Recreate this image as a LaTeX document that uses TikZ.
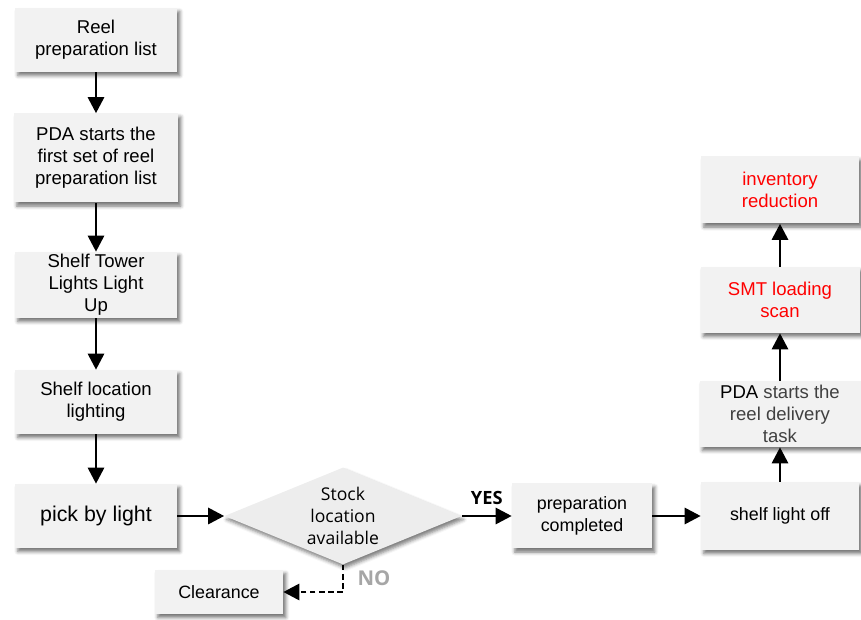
\documentclass[tikz,border=0pt]{standalone}
\usepackage{fontspec}
\setmainfont{Liberation Sans}
\newfontfamily\segoe{Open Sans}
\usetikzlibrary{arrows.meta,shapes.geometric,shadows.blur}
\definecolor{boxgray}{HTML}{F2F2F2}
\definecolor{diagray}{HTML}{EDEDED}
\definecolor{nogray}{HTML}{A6A6A6}
\definecolor{textgray}{HTML}{404040}
\begin{document}
\begin{tikzpicture}
	[box/.style={rectangle,fill=boxgray,align=center,inner sep=1pt,
		minimum width=4.05cm,minimum height=1.6cm,
		font=\fontsize{13.2}{15.6}\selectfont,
		blur shadow={shadow xshift=2pt,shadow yshift=-2.5pt,shadow blur radius=2.5pt,shadow opacity=55}},
	 decision/.style={diamond,fill=diagray,inner sep=0pt,aspect=2.44,
		minimum width=5.925cm,minimum height=2.425cm,
		blur shadow={shadow xshift=1.5pt,shadow yshift=-2.5pt,shadow blur radius=2.5pt,shadow opacity=50}},
	 arrow/.style={-{Triangle[length=4mm,width=4mm]},line width=2pt}]
	\useasboundingbox (0,0) rectangle (21.525,15.5);
	\node[box] (A) at (2.4,14.5) {Reel\\preparation list};
	\node[box,minimum width=4.1cm,minimum height=2.225cm] (B) at (2.4,11.55) {PDA starts the\\first set of reel\\preparation list};
	\node[box,minimum height=1.65cm] (C) at (2.4,8.375) {Shelf Tower\\Lights Light\\Up};
	\node[box] (D) at (2.4,5.45) {Shelf location\\lighting};
	\node[box,font=\fontsize{15.2}{18}\selectfont] (E) at (2.4,2.6) {pick by light};
	\node[decision] (F) at (8.575,2.6) {};
	\node[align=center,font=\segoe\fontsize{12.5}{15.6}\selectfont] (Ft) at (F) {Stock\\location\\available};
	\node[box,minimum width=3.2cm,minimum height=1.1cm,font=\fontsize{12.7}{15}\selectfont] (G) at (5.475,0.7) {Clearance};
	\node[box,minimum width=3.5cm,minimum height=1.625cm,font=\fontsize{12.7}{15.4}\selectfont] (H) at (14.55,2.6) {preparation\\completed};
	\node[box,minimum width=3.95cm,minimum height=1.7cm,font=\fontsize{12.7}{15.4}\selectfont] (I) at (19.5,2.6) {shelf light off};
	\node[box,minimum width=4.025cm,minimum height=1.65cm] (J) at (19.5,5.15) {PDA \textcolor{textgray}{starts the}\\\textcolor{textgray}{reel delivery}\\\textcolor{textgray}{task}};
	\node[box,minimum width=3.975cm,minimum height=1.65cm,text=red] (K) at (19.5,8.0) {SMT loading\\scan};
	\node[box,minimum width=3.95cm,minimum height=1.675cm,text=red] (L) at (19.5,10.75) {inventory\\reduction};
	\path[arrow,draw]
	(A) edge (B)
	(B) edge (C)
	(C) edge (D)
	(D) edge (E)
	(E) edge (F)
	(F) edge node[above=4pt,font=\segoe\bfseries\fontsize{13}{15}\selectfont] {YES} (H)
	(H) edge (I)
	(I) edge (J)
	(J) edge (K)
	(K) edge (L);
	\draw[arrow,dashed,dash pattern=on 4pt off 2.5pt] (F.south) |- node[pos=.25,right,xshift=6pt,text=nogray,font=\segoe\bfseries\fontsize{14.5}{16}\selectfont] {NO} (G.east);
\end{tikzpicture}
\end{document}
